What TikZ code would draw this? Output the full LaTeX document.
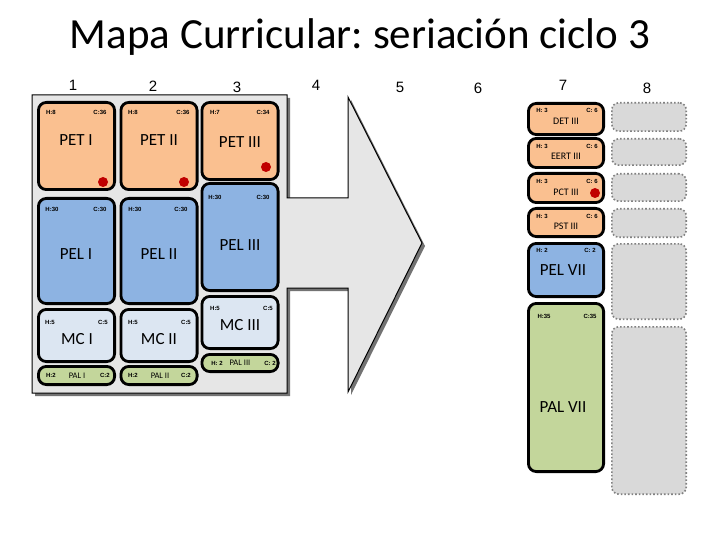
\documentclass[tikz,border=0pt]{standalone}
\usepackage{fontspec}
\setmainfont{Carlito}
\newfontfamily\numfont{Liberation Sans}
\frenchspacing
\definecolor{petcol}{HTML}{FAC090}
\definecolor{pelcol}{HTML}{8DB3E2}
\definecolor{mccol}{HTML}{DCE6F2}
\definecolor{palcol}{HTML}{C3D69B}
\definecolor{dotcol}{HTML}{C00000}
\definecolor{arrowcol}{HTML}{E6E6E6}
\definecolor{freecol}{HTML}{D9D9D9}
\tikzset{
  curso/.style={draw=black, line width=2.8pt, rounded corners=8pt, inner sep=0pt, outer sep=0pt},
  libre/.style={draw=black!50, fill=freecol, line width=1.6pt, dotted, rounded corners=7pt, inner sep=0pt, outer sep=0pt},
  hc/.style={font=\numfont\fontsize{6}{6}\selectfont\bfseries, inner sep=0pt},
  big/.style={font=\fontsize{17}{17}\selectfont, inner sep=0pt},
  mid/.style={font=\fontsize{10}{10}\selectfont, inner sep=0pt},
  small/.style={font=\fontsize{8.5}{9}\selectfont, inner sep=0pt},
  num/.style={font=\numfont\fontsize{15}{15}\selectfont, inner sep=0pt}
}
\begin{document}
\begin{tikzpicture}[x=1pt, y=-1pt]
            \useasboundingbox (0,0) rectangle (720,540);

            \node[font=\fontsize{43}{43}\selectfont] (titulo) at (360,37) {Mapa Curricular: seriación ciclo 3};

            \node[num] (n1) at (73,85) {1};
            \node[num] (n2) at (153,86) {2};
            \node[num] (n3) at (237,87) {3};
            \node[num] (n4) at (316,85) {4};
            \node[num] (n5) at (400,87) {5};
            \node[num] (n6) at (478,88) {6};
            \node[num] (n7) at (563,85) {7};
            \node[num] (n8) at (647,88) {8};

            % flecha de fondo
            \fill[black!55] (35,98) -- (290,98) -- (290,201) -- (351,201) -- (351,100) -- (425,246) -- (351,395) -- (351,291) -- (290,291) -- (290,396) -- (35,396) -- cycle;
            \draw[fill=arrowcol, line width=1pt] (32,95) -- (287,95) -- (287,198) -- (348,198) -- (348,97) -- (422,243) -- (348,392) -- (348,288) -- (287,288) -- (287,393) -- (32,393) -- cycle;

            % ciclo 1
            \node[curso, fill=petcol, minimum width=76.2, minimum height=87.2] (pet1) at (76.5,146) {};
            \node[curso, fill=pelcol, minimum width=76.2, minimum height=105.2] (pel1) at (76.5,251) {};
            \node[curso, fill=mccol, minimum width=76.2, minimum height=52.2] (mc1) at (76.5,335.5) {};
            \node[curso, fill=palcol, minimum width=76.2, minimum height=18.2] (pal1) at (76.5,375.5) {};

            % ciclo 2
            \node[curso, fill=petcol, minimum width=76.2, minimum height=87.2] (pet2) at (159,146) {};
            \node[curso, fill=pelcol, minimum width=76.2, minimum height=105.2] (pel2) at (159,251) {};
            \node[curso, fill=mccol, minimum width=76.2, minimum height=52.2] (mc2) at (159,335.5) {};
            \node[curso, fill=palcol, minimum width=76.2, minimum height=18.2] (pal2) at (159,375.5) {};

            % ciclo 3
            \node[curso, fill=petcol, minimum width=76.2, minimum height=77.2] (pet3) at (240,141) {};
            \node[curso, fill=pelcol, minimum width=76.2, minimum height=107.2] (pel3) at (240,237) {};
            \node[curso, fill=mccol, minimum width=76.2, minimum height=52.2] (mc3) at (240,322.5) {};
            \node[curso, fill=palcol, minimum width=76.2, minimum height=17.2] (pal3) at (240,363) {};

            % ciclo 7
            \node[curso, fill=petcol, minimum width=75.2, minimum height=31.2] (det) at (566,119) {};
            \node[curso, fill=petcol, minimum width=75.2, minimum height=29.2] (eert) at (566,153) {};
            \node[curso, fill=petcol, minimum width=75.2, minimum height=29.2] (pct) at (566,188) {};
            \node[curso, fill=petcol, minimum width=75.2, minimum height=28.2] (pst) at (566,222.5) {};
            \node[curso, fill=pelcol, minimum width=75.2, minimum height=53.2] (pel7) at (566,270) {};
            \node[curso, fill=palcol, minimum width=75.2, minimum height=168.2] (pal7) at (566,387.5) {};

            % ciclo 8
            \node[libre, minimum width=74.4, minimum height=28.4] (g1) at (649,117) {};
            \node[libre, minimum width=74.4, minimum height=26.4] (g2) at (649,152) {};
            \node[libre, minimum width=74.4, minimum height=27.4] (g3) at (649,187.5) {};
            \node[libre, minimum width=74.4, minimum height=28.4] (g4) at (649,223) {};
            \node[libre, minimum width=74.4, minimum height=75.4] (g5) at (649,281.5) {};
            \node[libre, minimum width=74.4, minimum height=167.4] (g6) at (649,410.5) {};

            % textos
            \node[hc] at (51,112) {H:8};   \node[hc] at (100,112) {C:36};  \node[big] at (76,140) {PET I};
            \node[hc] at (133,112) {H:8};  \node[hc] at (183,112) {C:36};  \node[big] at (159,140) {PET II};
            \node[hc] at (215,112) {H:7};  \node[hc] at (263,112) {C:34};  \node[big] at (240,142) {PET III};

            \node[hc] at (52,209) {H:30};  \node[hc] at (100,209) {C:30};  \node[big] at (76,254) {PEL I};
            \node[hc] at (135,209) {H:30}; \node[hc] at (181,209) {C:30};  \node[big] at (159,254) {PEL II};
            \node[hc] at (215,197) {H:30}; \node[hc] at (263,197) {C:30};  \node[big] at (240,245) {PEL III};

            \node[hc] at (50,322) {H:5};   \node[hc] at (103,322) {C:5};   \node[big] at (77,339) {MC I};
            \node[hc] at (133,322) {H:5};  \node[hc] at (186,322) {C:5};   \node[big] at (159,339) {MC II};
            \node[hc] at (215,308) {H:5};  \node[hc] at (268,308) {C:5};   \node[big] at (240,325) {MC III};

            \node[hc] at (51,375) {H:2};   \node[small] at (77,376) {PAL I};   \node[hc] at (105,375) {C:2};
            \node[hc] at (133,375) {H:2};  \node[small] at (160,376) {PAL II};  \node[hc] at (186,375) {C:2};
            \node[hc] at (217,363) {H: 2}; \node[small] at (240,363) {PAL III}; \node[hc] at (270,363) {C: 2};

            \node[hc] at (542,110) {H: 3}; \node[hc] at (592,110) {C: 6}; \node[mid] at (566,121) {DET III};
            \node[hc] at (542,146) {H: 3}; \node[hc] at (592,146) {C: 6}; \node[mid] at (566,156) {EERT III};
            \node[hc] at (542,181) {H: 3}; \node[hc] at (592,181) {C: 6}; \node[mid] at (566,192) {PCT III};
            \node[hc] at (542,216) {H: 3}; \node[hc] at (592,216) {C: 6}; \node[mid] at (566,226) {PST III};
            \node[hc] at (542,250) {H: 2}; \node[hc] at (590,250) {C: 2}; \node[big] at (563,270) {PEL VII};
            \node[hc] at (544,316) {H:35}; \node[hc] at (590,316) {C:35}; \node[big] at (563,407) {PAL VII};

            % marcas de seriacion
            \fill[dotcol] (103,182) circle (5);
            \fill[dotcol] (184,182) circle (5);
            \fill[dotcol] (266,167) circle (5);
            \fill[dotcol] (595,193) circle (5);
        \end{tikzpicture}
\end{document}
